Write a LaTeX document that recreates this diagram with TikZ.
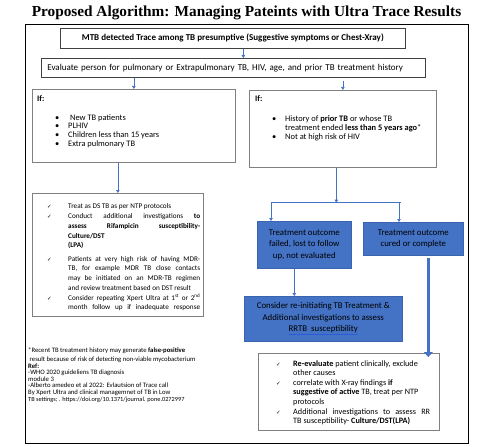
\documentclass[tikz,border=0pt]{standalone}
\usepackage{fontspec}
\setmainfont{Carlito}
\newfontfamily\titlefont{Liberation Serif}
\newfontfamily\symfont{DejaVu Sans}
\usetikzlibrary{arrows.meta,calc}
\definecolor{oblue}{HTML}{4472C4}
\definecolor{oedge}{HTML}{3A64AE}
\definecolor{boxgray}{HTML}{808080}
\definecolor{ulblue}{HTML}{2E5BD8}
\newcommand{\ckm}{{\symfont\fontsize{5.5}{5.5}\selectfont ✓}}
\newcommand{\ckitem}[3][0pt]{\par\vspace{#1}\noindent\hangindent=#2\hangafter=1\makebox[#2][l]{\ckm}#3\par}
\newcommand{\bul}[2]{\hspace*{#1}\makebox[13pt][l]{•}#2}
\newcommand{\tight}{\lineskiplimit=-6pt}
\tikzset{
  frame/.style={draw=black, line width=1pt},
  box/.style={draw=boxgray, line width=0.7pt, fill=white, inner sep=0pt},
  bluebox/.style={draw=oedge, fill=oblue, line width=0.6pt, inner sep=0pt, text=black},
  txt/.style={inner sep=0pt, anchor=north west, align=left},
  para/.style={inner sep=0pt, anchor=north west, align=justify},
  conn/.style={draw=oblue, line width=0.6pt, -{Triangle[width=3.5pt,length=3pt]}},
  plainline/.style={draw=oblue, line width=0.6pt},
  thickconn/.style={draw=oblue, line width=3.5pt, -{Triangle[width=9pt,length=5pt]}},
}
\begin{document}
\begin{tikzpicture}[x=1pt,y=-1pt]
\useasboundingbox (0,0) rectangle (478,446);
\node[font=\titlefont\bfseries\fontsize{15.3}{17}\selectfont] (title) at (246.5,13) {Proposed Algorithm: Managing Pateints with Ultra Trace Results};
\draw[frame] (25,25) rectangle (468,443);

% top boxes
\node[box, draw=black!75, anchor=north west, minimum width=345pt, minimum height=20pt, font=\bfseries\fontsize{9}{10}\selectfont] (b1) at (60,28) {MTB detected Trace among TB presumptive (Suggestive symptoms or Chest-Xray)};
\node[box, draw=black!75, anchor=north west, minimum height=19pt, text width=372pt, inner xsep=6pt, align=left, font=\fontsize{9}{10}\selectfont] (b2) at (41,58) {Evaluate person for pulmonary or Extrapulmonary TB, HIV, age, and prior TB treatment history};

% If boxes
\node[box, anchor=north west, minimum width=203pt, minimum height=73pt] (ifL) at (32,89) {};
\node[txt, font=\fontsize{8.4}{8.7}\selectfont\tight] (ifLt) at (37,95) {\textbf{If:}\\[10.5pt]
\bul{18pt}{ New TB patients}\\
\bul{18pt}{PLHIV}\\
\bul{18pt}{Children less than 15 years}\\
\bul{18pt}{Extra pulmonary TB}};

\node[box, anchor=north west, minimum width=187pt, minimum height=77pt] (ifR) at (249,90) {};
\node[txt, font=\fontsize{8.4}{8.7}\selectfont\tight] (ifRt) at (255,95) {\textbf{If:}\\[12pt]
\bul{17pt}{History of \textbf{prior TB} or whose TB}\\
\hspace*{30pt}treatment ended \textbf{less than 5 years ago}*\\
\bul{17pt}{Not at high risk of HIV}};

% left check box
\node[box, anchor=north west, minimum width=171pt, minimum height=123pt] (ckL) at (32,193) {};
\node[para, text width=153pt, font=\fontsize{7.2}{9.6}\selectfont\tight] (ckLt) at (47,199) {%
\ckitem{21pt}{Treat as DS TB as per NTP protocols}%
\ckitem[0.5pt]{21pt}{Conduct additional investigations \textbf{to}\linebreak \textbf{assess Rifampicin susceptibility-}\linebreak\textbf{Culture/DST}\newline\textbf{(LPA)}}%
\ckitem[4pt]{21pt}{Patients at very high risk of having MDR-\linebreak TB, for example MDR TB close contacts\linebreak may be initiated on an MDR-TB regimen\linebreak and review treatment based on DST result}%
\ckitem[0.5pt]{21pt}{Consider repeating Xpert Ultra at 1\textsuperscript{st} or 2\textsuperscript{nd}\linebreak month follow up if inadequate response\parfillskip=0pt}};

% blue boxes
\node[bluebox, anchor=north west, minimum width=94pt, minimum height=47pt, align=center, font=\fontsize{8.8}{11.7}\selectfont] (fail) at (257,221) {Treatment outcome\\failed, lost to follow\\up, not evaluated};
\node[bluebox, anchor=north west, minimum width=100pt, minimum height=33pt, align=center, font=\fontsize{8.8}{11.7}\selectfont] (cured) at (363,222) {Treatment outcome\\cured or complete};
\node[bluebox, anchor=north west, minimum width=158pt, minimum height=45pt, align=center, font=\fontsize{8.8}{11.7}\selectfont] (consider) at (244,296) {Consider re-initiating TB Treatment \&\\Additional investigations to assess\\{\color{ulblue}\underline{\color{black}RRTB\ \ susceptibility}}};

% right check box
\node[box, anchor=north west, minimum width=181pt, minimum height=77pt] (ckR) at (258,353) {};
\node[para, text width=154pt, font=\fontsize{8.2}{9.4}\selectfont\tight] (ckRt) at (276,356.5) {%
\ckitem{17pt}{\textbf{Re-evaluate} patient clinically, exclude\newline other causes}%
\ckitem[0.5pt]{17pt}{correlate with X-ray findings \textbf{if}\newline \textbf{suggestive of active} TB, treat per NTP\newline protocols}%
\ckitem[0.5pt]{17pt}{Additional investigations to assess RR\linebreak TB susceptibility- \textbf{Culture/DST(LPA)}}};

% footnote
\node[txt, font=\fontsize{6.7}{6.6}\selectfont\tight] (note) at (28,347.3) {*Recent TB treatment history may generate \textbf{false-positive}\\[2.7pt]
\ result because of risk of detecting non-viable mycobacterium\\
\textbf{Ref:}\\
-WHO 2020 guideliens TB diagnosis\\
module 3\\
-Alberto amedeo et al 2022: Evlautsion of Trace call\\
By Xpert Ultra and clinical managemnet of TB in Low\\
{\fontsize{6.3}{6.6}\selectfont TB settings; . https://doi.org/10.1371/journal. pone.0272997}};

% connectors
\coordinate (p1) at ($(b1.south)+(10.5,0)$);
\draw[conn] (p1) -- (p1 |- b2.north);
\draw[conn] (ifL.north |- b2.south) -- (ifL.north);
\coordinate (p1r) at ($(ifR.north |- b2.south)+(0,3)$);
\draw[conn] (p1r) -- (ifR.north);
\draw[conn] (ckL.north |- ifL.south) -- (ckL.north);
\coordinate (split) at ($(ifR.south)+(-6.5,35)$);
\draw[conn] (split |- ifR.south) -- (split);
\coordinate (splitL) at ($(split -| fail.north west)+(14,0)$);
\coordinate (splitR) at ($(split -| cured.north west)+(36,0)$);
\draw[plainline] (splitL) -- ($(splitR)+(2,0)$);
\draw[conn] (splitL) -- (splitL |- fail.north);
\draw[conn] (splitR) -- (splitR |- cured.north);
\coordinate (p2) at ($(fail.south)+(-10,0)$);
\draw[conn] (p2) -- (p2 |- consider.north);
\coordinate (p3) at ($(cured.south)+(15,2)$);
\coordinate (p3e) at ($(p3 |- ckR.north)+(0,4)$);
\draw[thickconn] (p3) -- (p3e);
\end{tikzpicture}
\end{document}
